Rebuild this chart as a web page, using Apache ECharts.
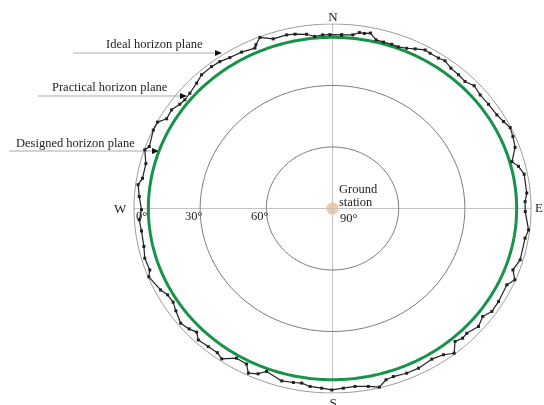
<!DOCTYPE html>
<html><head><meta charset="utf-8">
<script src="https://cdn.jsdelivr.net/npm/echarts@6/dist/echarts.min.js"></script>
<style>html,body{margin:0;padding:0;background:#fff}#c{width:544px;height:405px}</style>
</head><body><div id="c"></div>
<script>
// Practical horizon plane: azimuth (deg, clockwise from N) and elevation (deg)
const azimuths = [2.8,6.2,8.1,9.6,11.4,13.5,15.9,18.5,20.7,23.3,25.7,28.5,30.3,33.2,35.3,38.1,41.2,44.1,47.0,50.4,54.3,58.5,61.3,63.9,66.8,70.2,74.3,76.3,79.1,85.1,87.8,91.0,96.7,99.4,106.4,110.1,112.8,115.2,121.1,124.8,127.7,131.0,135.0,137.0,139.4,142.0,144.8,148.5,153.4,157.3,161.4,163.8,166.3,169.4,173.3,176.8,180.2,183.2,186.7,189.3,191.8,195.3,200.6,202.7,205.4,207.2,210.8,214.4,216.6,219.9,223.5,225.6,227.9,230.9,234.9,237.7,240.6,243.0,248.2,250.1,254.1,257.8,262.8,266.4,269.6,273.8,277.5,279.7,284.5,288.6,290.0,295.2,298.0,300.2,303.4,306.3,308.4,311.0,314.8,317.7,321.6,324.5,327.7,331.6,335.8,336.5,338.5,342.0,346.2,348.7,352.1,354.5,357.0,359.2];
const elevations = [5.2,4.8,3.3,3.4,2.7,5.4,5.6,5.5,5.7,4.9,3.6,2.0,2.3,2.3,1.7,3.0,3.3,3.7,2.2,3.1,2.9,2.6,1.6,0.3,1.0,2.0,5.5,3.2,1.5,1.6,2.6,2.6,0.5,1.5,1.3,2.9,0.3,2.6,2.1,2.0,3.9,2.3,3.9,3.5,4.6,0.4,2.7,3.8,2.9,2.9,3.5,3.0,0.3,1.7,2.6,2.2,1.5,2.2,2.6,3.7,3.3,2.8,5.1,2.6,1.1,4.7,5.0,1.1,2.4,2.2,1.6,3.8,2.4,1.3,3.2,4.5,4.2,2.5,0.3,1.9,1.5,2.5,2.7,2.2,3.4,2.2,1.1,2.6,2.6,0.2,1.6,0.2,0.2,3.0,2.6,4.1,4.6,4.3,3.2,1.8,1.7,2.0,2.9,3.3,4.2,2.9,0.3,3.0,2.8,3.3,4.2,5.7,5.2,5.2];
const designedElevation = 6.5;   // designed horizon plane
const idealElevation = 0;        // ideal horizon plane
const ringElevations = [30, 60];
const ringLabels = ['0°', '30°', '60°', '90°'];
const directionLabels = ['N', 'E', 'S', 'W'];

function toXY(az, el) {
  const r = 90 - el, a = az * Math.PI / 180;
  return [r * Math.sin(a), r * Math.cos(a)];
}
function ring(el) {
  const pts = [];
  for (let a = 0; a <= 360; a += 1) pts.push(toXY(a, el));
  return pts;
}
const practical = azimuths.map((a, i) => toXY(a, elevations[i]));
practical.push(practical[0]);

const serif = 'Liberation Serif';
const txt = (text, x, y, size, align) => ({
  type: 'text', x: x, y: y,
  style: { text, font: `${size || 12.5}px "${serif}"`, fill: '#222', align: align || 'left', verticalAlign: 'middle' }
});
const leader = (text, tx, ty, x0, x1, y) => ([
  txt(text, tx, ty),
  { type: 'line', shape: { x1: x0, y1: y, x2: x1 - 5, y2: y }, style: { stroke: '#aaa', lineWidth: 1 } },
  { type: 'polygon', shape: { points: [[x1 - 7, y - 3], [x1, y], [x1 - 7, y + 3]] }, style: { fill: '#111' } }
]);

const chart = echarts.init(document.getElementById('c'));
const lineBase = { type: 'line', symbol: 'none', silent: true, animation: false };
chart.setOption({
  animation: false,
  grid: { left: 134, top: 24, width: 397, height: 369 },
  xAxis: { type: 'value', min: -90, max: 90, show: false },
  yAxis: { type: 'value', min: -90, max: 90, show: false },
  series: [
    Object.assign({}, lineBase, { data: [[-90, 0], [90, 0]], lineStyle: { color: '#c4c4c4', width: 1 } }),
    Object.assign({}, lineBase, { data: [[0, -90], [0, 90]], lineStyle: { color: '#c4c4c4', width: 1 } }),
    ...ringElevations.map(e => Object.assign({}, lineBase, { data: ring(e), lineStyle: { color: '#777', width: 1 } })),
    Object.assign({}, lineBase, { data: ring(idealElevation), lineStyle: { color: '#999', width: 1 } }),
    Object.assign({}, lineBase, { data: ring(designedElevation), lineStyle: { color: '#159447', width: 3 } }),
    { type: 'line', data: practical, symbol: 'rect', symbolSize: 3, silent: true,
      lineStyle: { color: '#222', width: 1.2 }, itemStyle: { color: '#222' } },
    { type: 'scatter', data: [[0, 0]], symbolSize: 12, silent: true,
      itemStyle: { color: '#f4b98c', borderColor: '#f8d3b5', borderWidth: 1 } }
  ],
  graphic: [
    txt(directionLabels[0], 333, 18, 13, 'center'),
    txt(directionLabels[1], 535, 209, 13),
    txt(directionLabels[2], 333, 404, 13, 'center'),
    txt(directionLabels[3], 114, 210, 13),
    txt(ringLabels[0], 136, 217),
    txt(ringLabels[1], 185, 217),
    txt(ringLabels[2], 251, 217),
    txt(ringLabels[3], 340, 219),
    txt('Ground', 339, 190),
    txt('station', 339, 203),
    ...leader('Ideal horizon plane', 106, 45, 73, 222, 53),
    ...leader('Practical horizon plane', 52, 88, 38, 187, 96),
    ...leader('Designed horizon plane', 16, 144, 9, 159, 151)
  ]
});
</script></body></html>
